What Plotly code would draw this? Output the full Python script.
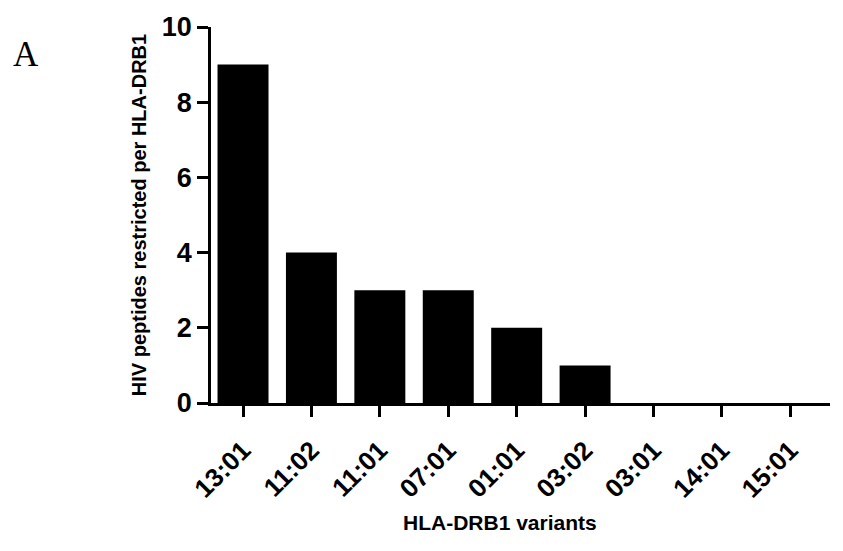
import plotly.graph_objects as go

# HLA-DRB1 variants and number of HIV peptides restricted by each
variants = ["13:01", "11:02", "11:01", "07:01", "01:01", "03:02", "03:01", "14:01", "15:01"]
peptide_counts = [9, 4, 3, 3, 2, 1, 0, 0, 0]
y_ticks = [0, 2, 4, 6, 8, 10]

SANS = "Liberation Sans, Arial, sans-serif"

fig = go.Figure(
    go.Bar(
        x=variants,
        y=peptide_counts,
        width=0.745,
        marker=dict(color="black", line=dict(width=0)),
    )
)

fig.update_layout(
    width=843,
    height=551,
    margin=dict(l=211, r=13, t=22, b=148),
    paper_bgcolor="white",
    plot_bgcolor="white",
    showlegend=False,
    font=dict(family=SANS, color="black"),
)

fig.update_xaxes(
    type="category",
    range=[-0.468, 8.58],
    showline=True,
    linecolor="black",
    linewidth=2.5,
    showgrid=False,
    zeroline=False,
    ticks="outside",
    ticklen=11,
    tickwidth=2.5,
    tickcolor="black",
    tickangle=-45,
    ticklabelstandoff=8,
    tickfont=dict(family=SANS, size=26, weight="bold"),
)

fig.update_yaxes(
    range=[0, 10],
    tickvals=y_ticks,
    showline=True,
    linecolor="black",
    linewidth=2.5,
    showgrid=False,
    zeroline=False,
    ticks="outside",
    ticklen=11,
    tickwidth=2.5,
    tickcolor="black",
    tickfont=dict(family=SANS, size=27, weight="bold"),
    title=dict(
        text="HIV peptides restricted per HLA-DRB1",
        font=dict(family=SANS, size=20, weight="bold"),
        standoff=10,
    ),
)

# x-axis title, placed slightly left of the plot centre
fig.add_annotation(
    text="HLA-DRB1 variants",
    xref="paper",
    yref="paper",
    x=(500 - 211) / 619,
    y=-(524 - 403) / 381,
    xanchor="center",
    yanchor="middle",
    showarrow=False,
    font=dict(family=SANS, size=21, weight="bold", color="black"),
)

# panel letter
fig.add_annotation(
    text="A",
    xref="paper",
    yref="paper",
    x=(11 - 211) / 619,
    y=1 + (22 - 50) / 381,
    xanchor="left",
    yanchor="middle",
    showarrow=False,
    font=dict(family="Liberation Serif, Times New Roman, serif", size=35, color="black"),
)

fig.write_html("out.html")
